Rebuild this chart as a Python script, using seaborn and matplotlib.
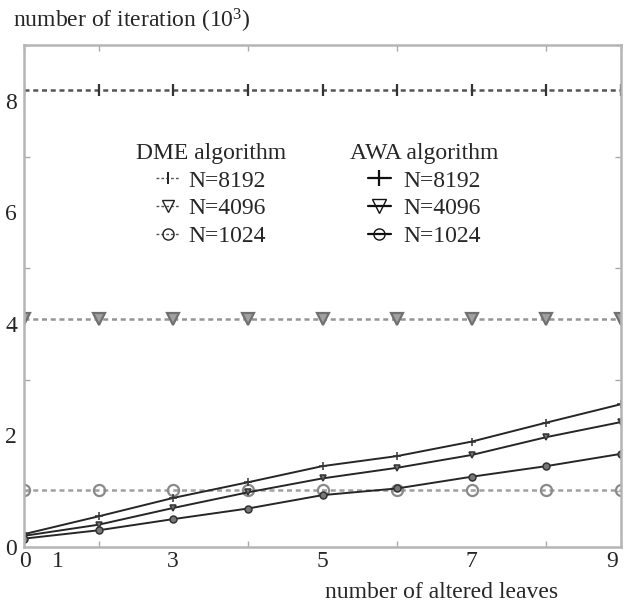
import matplotlib
matplotlib.use("Agg")
import matplotlib.pyplot as plt
import seaborn as sns
import numpy as np
from matplotlib.lines import Line2D
from matplotlib.ticker import MultipleLocator

# ---- data (units of 10^3 iterations) ----
x_leaves = [1, 2, 3, 4, 5, 6, 7, 8, 9]
dme_8192 = [8.192, 8.192, 8.192, 8.192, 8.192, 8.192, 8.192, 8.192, 8.192]
dme_4096 = [4.096, 4.096, 4.096, 4.096, 4.096, 4.096, 4.096, 4.096, 4.096]
dme_1024 = [1.024, 1.024, 1.024, 1.024, 1.024, 1.024, 1.024, 1.024, 1.024]
awa_8192 = [0.23, 0.55, 0.88, 1.16, 1.45, 1.63, 1.89, 2.23, 2.56]
awa_4096 = [0.20, 0.40, 0.70, 0.98, 1.23, 1.42, 1.65, 1.97, 2.24]
awa_1024 = [0.15, 0.30, 0.50, 0.69, 0.93, 1.05, 1.26, 1.45, 1.67]
x_tick_pos = [1.02, 1.45, 3, 5, 7, 8.88]
x_tick_labels = ["0", "1", "3", "5", "7", "9"]
y_ticks = [0, 2, 4, 6, 8]
y_tick_labels = ["0", "2", "4", "6", "8"]
labels = ["N=8192", "N=4096", "N=1024"]

sns.set_style("ticks")
plt.rcParams["font.family"] = ["Liberation Serif", "DejaVu Serif"]
plt.rcParams["mathtext.fontset"] = "custom"
plt.rcParams["mathtext.rm"] = "Liberation Serif"
plt.rcParams["mathtext.it"] = "Liberation Serif"

FS = 17
fig = plt.figure(figsize=(6.24, 6.08), dpi=100)
ax = fig.add_axes([24 / 624, 61 / 608, 597 / 624, 502 / 608])

dash = (0, (2.0, 1.5))
dme_specs = [
    (dme_8192, "#555555", "|", 9, "#333333", "#333333"),
    (dme_4096, "#959595", "v", 8, "#707070", "#a0a0a0"),
    (dme_1024, "#a0a0a0", "o", 8, "#8a8a8a", "none"),
]
for y, c, m, ms, mec, mfc in dme_specs:
    sns.lineplot(x=x_leaves, y=y, ax=ax, color=c, linestyle=dash, linewidth=1.8,
                 marker=m, markersize=ms, markeredgecolor=mec, markerfacecolor=mfc,
                 markeredgewidth=1.6, legend=False)

awa_specs = [
    (awa_8192, "+", 6),
    (awa_4096, "v", 5),
    (awa_1024, "o", 5),
]
for y, m, ms in awa_specs:
    sns.lineplot(x=x_leaves, y=y, ax=ax, color="#262626", linestyle="-", linewidth=1.4,
                 marker=m, markersize=ms, markeredgecolor="#333333",
                 markerfacecolor="#777777", markeredgewidth=1.1, legend=False)

ax.set_xlim(1, 9)
ax.set_ylim(0, 9)
ax.set_xticks(x_tick_pos)
ax.set_xticklabels(x_tick_labels, fontsize=FS)
ax.set_yticks(y_ticks)
ax.set_yticklabels(y_tick_labels, fontsize=FS)
ax.xaxis.set_minor_locator(MultipleLocator(1))
ax.yaxis.set_minor_locator(MultipleLocator(1))
ax.tick_params(which="both", direction="in", top=True, right=True, color="#aaaaaa", width=1.0)
ax.tick_params(axis="x", which="major", length=0, pad=3)
ax.tick_params(axis="y", which="major", length=0, pad=5)
ax.tick_params(which="minor", length=4)
for s in ax.spines.values():
    s.set_color("#b5b5b5")
    s.set_linewidth(1.8)
ax.set_xlabel("")
ax.set_ylabel("")

fig.text(13 / 624, 1 - 21 / 608, r"number of iteration (10$^3$)", fontsize=FS,
         ha="left", va="center")
fig.text(442 / 624, 1 - 592 / 608, "number of altered leaves", fontsize=FS,
         ha="center", va="center")

# legends
dme_handles = [
    Line2D([], [], color="#555555", linestyle=dash, linewidth=1.0, marker="|",
           markersize=9, markeredgecolor="#222222", markeredgewidth=1.4),
    Line2D([], [], color="#555555", linestyle=dash, linewidth=1.0, marker="v",
           markersize=9, markeredgecolor="#222222", markerfacecolor="none", markeredgewidth=1.0),
    Line2D([], [], color="#555555", linestyle=dash, linewidth=1.0, marker="o",
           markersize=8, markeredgecolor="#222222", markerfacecolor="none", markeredgewidth=1.0),
]
awa_handles = [
    Line2D([], [], color="#111111", linestyle="-", linewidth=1.6, marker="|",
           markersize=11, markeredgewidth=1.6),
    Line2D([], [], color="#111111", linestyle="-", linewidth=1.6, marker="v",
           markersize=10, markerfacecolor="none", markeredgewidth=1.0),
    Line2D([], [], color="#111111", linestyle="-", linewidth=1.6, marker="o",
           markersize=8, markerfacecolor="none", markeredgewidth=1.0),
]
leg1 = fig.legend(handles=dme_handles, labels=labels, title="DME algorithm",
                  loc="upper center", bbox_to_anchor=(211 / 624, 1 - 143 / 608),
                  frameon=False, fontsize=FS, title_fontsize=FS, handlelength=1.0,
                  handletextpad=0.35, labelspacing=0.26, borderpad=0, borderaxespad=0)
leg2 = fig.legend(handles=awa_handles, labels=labels, title="AWA algorithm",
                  loc="upper center", bbox_to_anchor=(424 / 624, 1 - 143 / 608),
                  frameon=False, fontsize=FS, title_fontsize=FS, handlelength=1.0,
                  handletextpad=0.5, labelspacing=0.26, borderpad=0, borderaxespad=0)

fig.savefig("out.png", dpi=100)
